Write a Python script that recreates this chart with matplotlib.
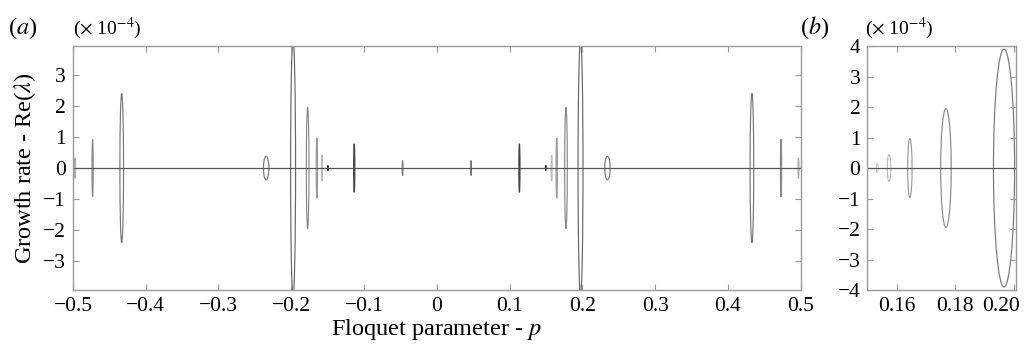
import matplotlib
matplotlib.use("Agg")
import matplotlib.pyplot as plt
import matplotlib.transforms as mtransforms
from matplotlib.patches import Ellipse

plt.rcParams['font.family'] = ['Liberation Serif', 'DejaVu Serif']
plt.rcParams['mathtext.fontset'] = 'stix'

# panel (a): ellipse centres (p), half widths (p), half heights (x1e-4), grey level
p_a = [-0.497, -0.473, -0.433, -0.2345, -0.1975, -0.1775, -0.1648, -0.1578, -0.1497,
       -0.1135, -0.047, 0.047, 0.1135, 0.1497, 0.1578, 0.1648, 0.1775, 0.1975,
       0.2345, 0.433, 0.473, 0.497]
hw_a = [0.0006, 0.0008, 0.0025, 0.0037, 0.0034, 0.0018, 0.0009, 0.0006, 0.0004,
        0.0008, 0.0005, 0.0005, 0.0008, 0.0004, 0.0006, 0.0009, 0.0018, 0.0034,
        0.0037, 0.0025, 0.0008, 0.0006]
hh_a = [0.33, 0.93, 2.4, 0.38, 4.1, 1.95, 0.97, 0.42, 0.08,
        0.78, 0.24, 0.24, 0.78, 0.08, 0.42, 0.97, 1.95, 4.1,
        0.38, 2.4, 0.93, 0.33]
grey_a = ['#aaaaaa', '#888888', '#777777', '#777777', '#666666', '#888888', '#999999', '#bbbbbb', '#222222',
          '#444444', '#777777', '#777777', '#444444', '#222222', '#bbbbbb', '#999999', '#888888', '#666666',
          '#777777', '#777777', '#888888', '#aaaaaa']

# panel (b): zoom near p = 0.15 - 0.20
p_b = [0.1534, 0.1574, 0.1645, 0.1768, 0.1966]
hw_b = [0.0003, 0.0006, 0.00075, 0.0018, 0.0036]
hh_b = [0.15, 0.44, 0.97, 1.95, 3.9]
grey_b = ['#cccccc', '#bbbbbb', '#999999', '#888888', '#777777']

xticks_a = [-0.5, -0.4, -0.3, -0.2, -0.1, 0, 0.1, 0.2, 0.3, 0.4, 0.5]
xtlabels_a = ['\u22120.5', '\u22120.4', '\u22120.3', '\u22120.2', '\u22120.1', '0',
              '0.1', '0.2', '0.3', '0.4', '0.5']
yticks_a = [-3, -2, -1, 0, 1, 2, 3]
xticks_b = [0.16, 0.18, 0.20]
xtlabels_b = ['0.16', '0.18', '0.20']
yticks_b = [-4, -3, -2, -1, 0, 1, 2, 3, 4]

fig = plt.figure(figsize=(10.29, 3.49), dpi=100)
ax1 = fig.add_axes([0.0709, 0.169, 0.7072, 0.699])
ax2 = fig.add_axes([0.8429, 0.169, 0.1445, 0.699])


def style(ax):
    for s in ax.spines.values():
        s.set_color('#999999')
        s.set_linewidth(1.0)
    ax.tick_params(direction='in', top=True, right=True, length=4, width=0.8,
                   color='#999999', labelsize=15.5, pad=5)


def ylabels(ticks):
    return ['\u2212%d' % -t if t < 0 else '%d' % t for t in ticks]


for p, w, h, c in zip(p_a, hw_a, hh_a, grey_a):
    ax1.add_patch(Ellipse((p, 0), 2 * w, 2 * h, fill=False, edgecolor=c, lw=0.85))
ax1.axhline(0, color='#555555', lw=0.9)
ax1.set_xlim(-0.5, 0.5)
ax1.set_ylim(-3.92, 3.92)
ax1.set_xticks(xticks_a)
ax1.set_xticklabels(xtlabels_a)
ax1.set_yticks(yticks_a)
ax1.set_yticklabels(ylabels(yticks_a))
style(ax1)
ax1.set_xlabel('Floquet parameter - $p$', fontsize=17.5, labelpad=1)
ax1.set_ylabel('Growth rate - Re($\\lambda$)', fontsize=17.5, labelpad=4)

for p, w, h, c in zip(p_b, hw_b, hh_b, grey_b):
    ax2.add_patch(Ellipse((p, 0), 2 * w, 2 * h, fill=False, edgecolor=c, lw=0.85))
ax2.axhline(0, color='#555555', lw=0.9)
ax2.set_xlim(0.15, 0.2007)
ax2.set_ylim(-4, 4)
ax2.set_xticks(xticks_b)
ax2.set_xticklabels(xtlabels_b)
ax2.set_yticks(yticks_b)
ax2.set_yticklabels(ylabels(yticks_b))
style(ax2)
# last label pulled in so it stays on the page
lab = ax2.get_xticklabels()[-1]
lab.set_transform(lab.get_transform() + mtransforms.ScaledTranslation(-13 / 100, 0, fig.dpi_scale_trans))

fig.text(0.008, 0.92, '($a$)', fontsize=17.5, va='center')
fig.text(0.071, 0.92, '($\\times$ 10$^{-4}$)', fontsize=14, va='center')
fig.text(0.777, 0.92, '($b$)', fontsize=17.5, va='center')
fig.text(0.841, 0.92, '($\\times$ 10$^{-4}$)', fontsize=14, va='center')

fig.savefig('out.png', dpi=100)
